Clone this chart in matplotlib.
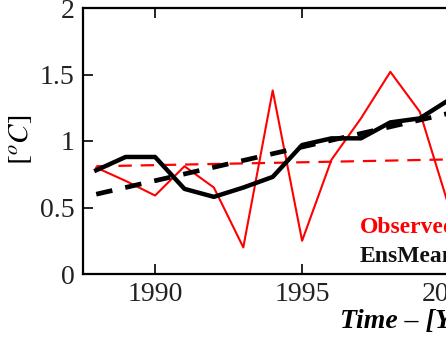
import matplotlib.pyplot as plt

plt.rcParams["mathtext.fontset"] = "stix"

# yearly series
years = [1988, 1989, 1990, 1991, 1992, 1993, 1994, 1995, 1996, 1997, 1998, 1999, 2000, 2001]
observed = [0.80, 0.70, 0.59, 0.81, 0.65, 0.20, 1.38, 0.25, 0.86, 1.17, 1.52, 1.22, 0.50, 0.80]
ensmean = [0.78, 0.88, 0.88, 0.64, 0.58, 0.65, 0.73, 0.97, 1.02, 1.02, 1.14, 1.17, 1.31, 1.40]

# linear trends (end points)
trend_years = [1988, 2002]
obs_trend = [0.81, 0.87]
ens_trend = [0.60, 1.31]

xticks = [1990, 1995, 2000]
yticks = [0, 0.5, 1, 1.5, 2]
ytick_labels = ["0", "0.5", "1", "1.5", "2"]

SERIF = "Liberation Serif"

fig = plt.figure(figsize=(4.46, 3.37), dpi=100, facecolor="white")
# axes run past the right edge, as in the cropped original
ax = fig.add_axes([83 / 446, 63 / 337, 425 / 446, 266 / 337])

ax.plot(years, observed, color="red", linewidth=1.5)
ax.plot(trend_years, obs_trend, color="red", linewidth=1.6, linestyle=(0, (6, 4)))
ax.plot(years, ensmean, color="black", linewidth=3.2, solid_joinstyle="round")
ax.plot(trend_years, ens_trend, color="black", linewidth=3.4, linestyle=(0, (3.5, 2.8)))

ax.set_xlim(1987.55, 2002)
ax.set_ylim(0, 2)
ax.set_xticks(xticks)
ax.set_yticks(yticks)
ax.set_yticklabels(ytick_labels)

ax.tick_params(direction="in", length=7, width=1.2, top=True, right=True,
               labelsize=20, pad=6)
for lab in ax.get_xticklabels() + ax.get_yticklabels():
    lab.set_family(SERIF)
    lab.set_color("#222222")
for sp in ax.spines.values():
    sp.set_linewidth(1.6)

# legend text (cut by the figure edge, as in the original)
fig.text(360 / 446, 104 / 337, "Observed", color="red",
         fontsize=17, fontweight="bold", family=SERIF, ha="left", va="baseline")
fig.text(360 / 446, 75 / 337, "EnsMean", color="#111111",
         fontsize=17, fontweight="bold", family=SERIF, ha="left", va="baseline")

fig.text(340 / 446, 9 / 337, "Time \u2013 [Years]", color="black", fontsize=20,
         fontweight="bold", style="italic", family=SERIF, ha="left", va="baseline")
fig.text(21 / 446, 197 / 337, r"$[^oC]$", rotation=90, fontsize=21,
         ha="center", va="center")

fig.savefig("out.png", dpi=100, facecolor="white")
